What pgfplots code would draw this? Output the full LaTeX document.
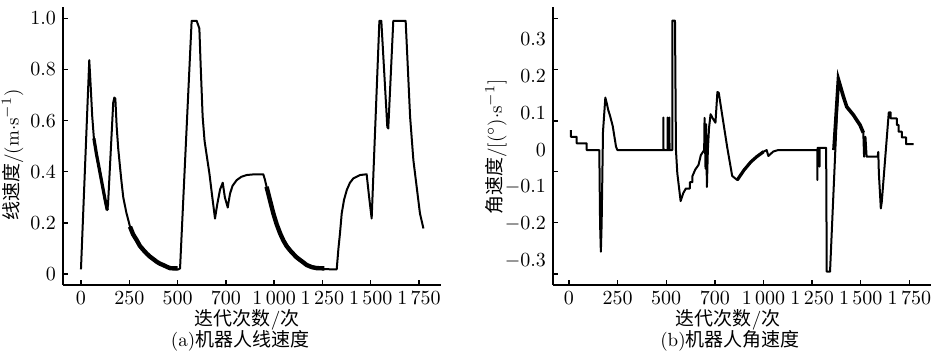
\documentclass[border=0pt]{standalone}
\usepackage{fontspec}
\usepackage{pgfplots}
\pgfplotsset{compat=1.18}
\newfontfamily\cjk{Noto Sans CJK SC}
\begin{document}
\begin{tikzpicture}
\useasboundingbox (0,0) rectangle (468pt,177.5pt);
\pgfplotsset{myax/.style={scale only axis, width=189pt, height=139pt, anchor=south west,
  axis x line=bottom, axis y line=left, axis line style={-, line width=0.8pt},
  tick align=inside, major tick length=2.5pt, tick style={line width=0.7pt, black},
  xtick={0,250,500,750,1000,1250,1500,1750},
  xticklabels={$0$,$250$,$500$,$700$,$1\,000$,$1\,250$,$1\,500$,$1\,750$},
  tick label style={font=\fontsize{10}{11}\selectfont},
  clip=false}}
% ---------- (a) ----------
\begin{axis}[myax, at={(31.5pt,35pt)}, xmin=-93, xmax=1864, ymin=-0.043, ymax=1.044,
  ytick={0,0.2,0.4,0.6,0.8,1.0}, yticklabels={$0$,$0.2$,$0.4$,$0.6$,$0.8$,$1.0$}]
\addplot[black, line width=1pt, line join=round] coordinates {
(0,0.018)(43,0.836)(50,0.74)(58,0.62)(67,0.53)(80,0.47)(95,0.41)(110,0.35)(125,0.29)(136,0.25)(140,0.27)
(167,0.67)(173,0.69)(178,0.686)(185,0.575)(193,0.49)(202,0.42)(210,0.36)(219,0.30)(235,0.24)(254,0.185)
(270,0.155)(288,0.133)(305,0.11)(323,0.094)(340,0.08)(357,0.068)(375,0.058)(392,0.048)(410,0.04)
(426,0.035)(445,0.028)(461,0.022)(480,0.02)(504,0.018)(513,0.022)
(573,0.99)(599,0.99)(606,0.975)(613,0.96)(620,0.81)(630,0.615)(640,0.52)(647,0.484)(665,0.393)(680,0.30)
(694,0.217)(705,0.27)(720,0.33)(734,0.357)(745,0.30)(760,0.26)(764,0.28)(772,0.315)(785,0.345)(806,0.367)
(830,0.38)(858,0.387)(900,0.39)(944,0.39)(952,0.37)(961,0.341)(978,0.29)(996,0.237)(1013,0.195)
(1031,0.159)(1048,0.131)(1065,0.109)(1083,0.092)(1100,0.078)(1117,0.065)(1134,0.055)(1152,0.045)
(1169,0.035)(1195,0.027)(1220,0.022)(1260,0.019)(1324,0.018)(1333,0.10)(1341,0.159)(1350,0.237)
(1362,0.29)(1376,0.328)(1392,0.356)(1410,0.374)(1445,0.387)(1479,0.39)(1492,0.30)(1505,0.217)
(1545,0.99)(1555,0.99)(1586,0.575)(1591,0.569)(1617,0.99)(1681,0.99)(1704,0.615)(1721,0.445)
(1738,0.341)(1755,0.237)(1773,0.178)
};
% jittered (thick) sections
\addplot[black, line width=1.6pt] coordinates {(67,0.53)(80,0.47)(95,0.41)(110,0.35)(125,0.29)(136,0.25)};
\addplot[black, line width=2.2pt] coordinates {(254,0.185)(270,0.155)(288,0.133)(305,0.11)(323,0.094)(340,0.08)(357,0.068)(375,0.058)(392,0.048)(410,0.04)(426,0.035)(445,0.028)(461,0.023)(480,0.022)(500,0.022)};
\addplot[black, line width=2.2pt] coordinates {(961,0.341)(978,0.29)(996,0.237)(1013,0.195)(1031,0.159)(1048,0.131)(1065,0.109)(1083,0.092)(1100,0.078)(1117,0.065)(1134,0.055)(1152,0.045)(1169,0.035)(1195,0.027)(1220,0.023)(1260,0.022)};
\end{axis}
% ---------- (b) ----------
\begin{axis}[myax, at={(276.5pt,35pt)}, xmin=-82, xmax=1861, ymin=-0.365, ymax=0.387,
  ytick={0.356,0.218,0.079,-0.0586,-0.196,-0.335}, yticklabels={},
  extra y ticks={-0.3,-0.2,-0.1,0,0.1,0.2,0.3},
  extra y tick labels={$-0.3$,$-0.2$,$-0.1$,$0$,$0.1$,$0.2$,$0.3$},
  extra y tick style={major tick length=0pt}]
\addplot[black, line width=1pt, line join=round] coordinates {
(10,0.054)(10,0.036)(40,0.036)(40,0.018)(91,0.018)(91,0)(156,0)
(160,-0.2)(164,-0.275)(168,-0.2)(175,0.05)(187,0.142)(195,0.125)(202,0.108)(210,0.095)(219,0.077)
(225,0.065)(231,0.045)(242,0.009)(249,0)
(485,0)(485,0.088)(486,0)(507,0)(507,0.088)(508,0)(516,0)(516,0.088)(517,0)(531,0)(531,0.35)(545,0.35)
(550,0.0)(557,-0.063)(574,-0.138)(588,-0.116)(601,-0.104)(622,-0.104)(622,-0.087)(635,-0.087)
(635,-0.07)(649,-0.053)(666,-0.04)(678,-0.0135)(695,0)(697,0.087)(702,-0.05)(705,0.07)(709,-0.1)
(714,0.0)(720,0.06)(728,0.097)(740,0.085)(753,0.074)(763,0.157)(770,0.155)(787,0.097)(813,0.009)
(839,-0.07)(865,-0.081)(900,-0.054)(935,-0.032)(965,-0.018)(1000,-0.0045)(1016,0.0)(1025,-0.016)
(1050,-0.004)(1075,0)(1277,0)(1277,-0.081)(1278,0.006)(1288,0.006)(1288,-0.045)(1289,0.006)
(1322,0.006)(1325,-0.329)(1342,-0.329)(1385,0.191)(1411,0.144)(1428,0.117)(1462,0.095)(1496,0.068)
(1513,0.047)(1517,-0.018)(1524,0.036)(1530,-0.018)(1587,-0.018)(1590,-0.005)(1593,-0.063)
(1603,-0.158)(1608,-0.14)(1644,0.102)(1654,0.102)(1654,0.086)(1685,0.086)(1685,0.068)(1694,0.068)
(1694,0.05)(1711,0.05)(1711,0.034)(1733,0.034)(1733,0.016)(1771,0.016)
};
\addplot[black, line width=1.6pt] coordinates {(865,-0.081)(900,-0.054)(935,-0.032)(965,-0.018)(1000,-0.0045)};
\addplot[black, line width=1.8pt] coordinates {(1362,0.0)(1385,0.191)(1411,0.144)(1428,0.117)(1462,0.095)(1496,0.068)(1513,0.047)};
\end{axis}
% ---------- labels ----------
\begin{scope}[every node/.style={font=\fontsize{9.5}{10}\selectfont, inner sep=0pt}]
\node[rotate=90] at (6.3pt,100pt) {{\cjk 线速度}/(m$\cdot$s$^{-1}$)};
\node[rotate=90] at (248pt,104pt) {{\cjk 角速度}/[($^\circ$)$\cdot$s$^{-1}$]};
\node at (123.5pt,17.5pt) {{\cjk 迭代次数}/{\cjk 次}};
\node at (120pt,7pt) {(a){\cjk 机器人线速度}};
\node at (364pt,17.5pt) {{\cjk 迭代次数}/{\cjk 次}};
\node at (365pt,7pt) {(b){\cjk 机器人角速度}};
\end{scope}
\end{tikzpicture}
\end{document}
